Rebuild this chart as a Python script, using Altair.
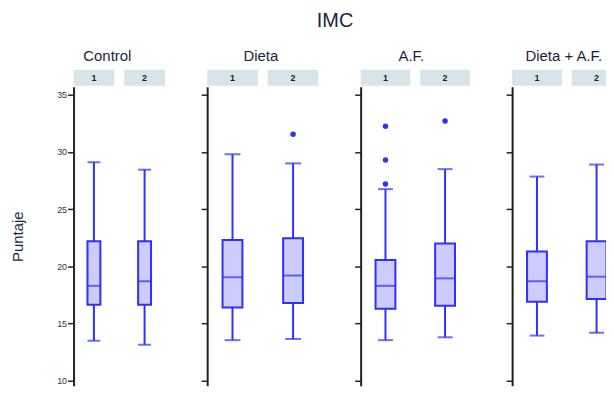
import altair as alt
import pandas as pd

# ---- data ----
groups = ["Control", "Dieta", "A.F.", "Dieta + A.F."]
times = ["1", "2"]
whisker_low = [[13.5, 13.15], [13.55, 13.65], [13.55, 13.8], [13.95, 14.2]]
q1 = [[16.65, 16.65], [16.4, 16.8], [16.3, 16.55], [16.9, 17.15]]
median = [[18.3, 18.7], [19.05, 19.2], [18.3, 18.95], [18.7, 19.1]]
q3 = [[22.2, 22.2], [22.3, 22.45], [20.55, 22.0], [21.3, 22.2]]
whisker_high = [[29.1, 28.45], [29.8, 29.0], [26.75, 28.5], [27.85, 28.9]]
outlier_group = ["Dieta", "A.F.", "A.F.", "A.F.", "A.F."]
outlier_time = ["2", "1", "1", "1", "2"]
outlier_value = [31.55, 32.25, 29.3, 27.2, 32.7]
y_ticks = [10, 15, 20, 25, 30, 35]

# ---- layout / style ----
panel_w = [92, 112, 110, 110]
box_w = [13, 20, 20, 20]
cap_w = [13, 16, 15, 15]
title_x = [34, 54, 51, 52]
PLOT_H = 301
Y_DOM = [9.566, 35.7]
BLUE = "#2f2fff"
FILL = "#ccccff"
STRIP = "#d7e5eb"
TXT = "#1e1f3c"

stats = pd.DataFrame([
    {"g": g, "t": t, "lo": whisker_low[i][j], "q1": q1[i][j], "med": median[i][j],
     "q3": q3[i][j], "hi": whisker_high[i][j]}
    for i, g in enumerate(groups) for j, t in enumerate(times)
])
outl = pd.DataFrame({"g": outlier_group, "t": outlier_time, "v": outlier_value})


def panel(i, g):
    d = stats[stats.g == g]
    o = outl[outl.g == g]
    pad_inner = 10 / ((panel_w[i] - 10) / 2 + 10)
    xs = alt.Scale(domain=times, paddingInner=pad_inner, paddingOuter=0)
    ys = alt.Scale(domain=Y_DOM, nice=False, zero=False)
    first = i == 0
    yaxis = alt.Axis(
        values=y_ticks, grid=False, domainColor="#222", domainWidth=2,
        tickColor="#222", tickWidth=1.5, tickSize=6,
        labels=first, labelFontSize=9, labelPadding=1, labelColor="#333",
        labelFont="Liberation Sans",
        title="Puntaje" if first else None, titleFontSize=15, titleFontWeight="normal",
        titleColor=TXT, titlePadding=31, titleFont="Liberation Sans",
    )
    x = alt.X("t:N", scale=xs, axis=None)
    base = alt.Chart(d)
    whisk = base.mark_rule(color=BLUE, strokeWidth=2).encode(
        x=x, y=alt.Y("lo:Q", scale=ys, axis=yaxis), y2="hi:Q")
    box = base.mark_bar(size=box_w[i], fill=FILL, stroke=BLUE, strokeWidth=2).encode(
        x=x, y=alt.Y("q1:Q", scale=ys), y2="q3:Q")
    med = base.mark_tick(color=BLUE, thickness=2, size=box_w[i], orient="horizontal").encode(
        x=x, y=alt.Y("med:Q", scale=ys))
    cap_lo = base.mark_tick(color=BLUE, thickness=2, size=cap_w[i], orient="horizontal").encode(
        x=x, y=alt.Y("lo:Q", scale=ys))
    cap_hi = base.mark_tick(color=BLUE, thickness=2, size=cap_w[i], orient="horizontal").encode(
        x=x, y=alt.Y("hi:Q", scale=ys))
    strip = base.mark_bar(fill=STRIP, width={"band": 1}).encode(
        x=x, y=alt.value(-17), y2=alt.value(-1))
    strip_txt = base.mark_text(fontSize=9, fontWeight="bold", color="#222",
                               font="Liberation Sans", baseline="middle").encode(
        x=x, y=alt.value(-9), text="t:N")
    ttl = alt.Chart(pd.DataFrame({"g": [g]})).mark_text(
        fontSize=15, color=TXT, font="Liberation Sans", baseline="alphabetic", align="center"
    ).encode(x=alt.value(title_x[i]), y=alt.value(-26), text="g:N")
    layers = [strip, strip_txt, ttl, whisk, box, med, cap_lo, cap_hi]
    if len(o):
        pts = alt.Chart(o).mark_circle(size=30, color=BLUE, opacity=1).encode(
            x=x, y=alt.Y("v:Q", scale=ys))
        layers.append(pts)
    return alt.layer(*layers).properties(width=panel_w[i], height=PLOT_H)


chart = alt.hconcat(
    *[panel(i, g) for i, g in enumerate(groups)],
    spacing=42.5, bounds="flush",
    title=alt.Title("IMC", fontSize=20, fontWeight="normal", color=TXT,
                    font="Liberation Sans", anchor="middle", dx=19, offset=18),
).configure_view(stroke=None).properties(
    padding={"left": 2, "top": 2, "right": -16, "bottom": 0}
)

chart.save("out.html", embed_options={"renderer": "svg", "actions": False})
